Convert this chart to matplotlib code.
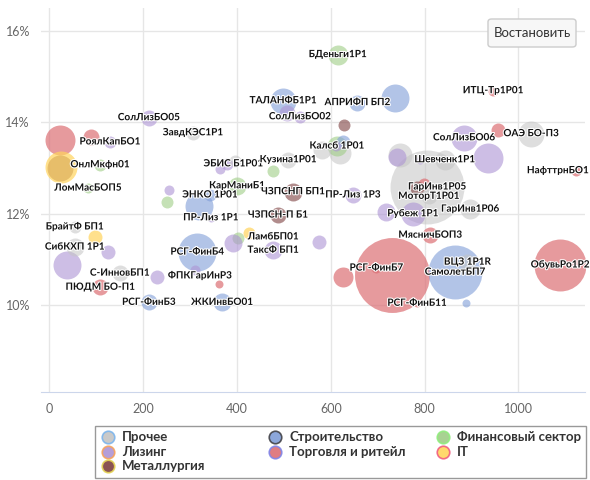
import matplotlib.pyplot as plt
import matplotlib.patheffects as pe
from matplotlib.lines import Line2D
from matplotlib.patches import FancyBboxPatch, Rectangle

plt.rcParams['font.family'] = ['Lato', 'DejaVu Sans']

# Bubble data: name ('' = no label), volume (x), yield % (y), size (z), sector
names = ['', '', 'РоялКапБО1', '', '', 'ОнлМкфн01', 'ЛомМасБОП5', 'СолЛизБО05',
         'ЗавдКЭС1Р1', '', '', '', 'ЭНКО 1Р01', 'ПР-Лиз 1Р1', 'ЭБИС Б1Р01', '',
         '', 'Кузина1Р01', '', 'КарМаниБ1', 'ЧЗПСНП БП1', 'ЧЗПСН-П Б1', 'ЛамбБП01', '',
         '', 'ТаксФ БП1', '', 'РСГ-ФинБ4', 'ФПКГарИнР3', '', '', 'ЖКИнвБО01',
         'РСГ-ФинБ3', 'ПЮДМ БО-П1', 'С-ИнновБП1', '', 'СибКХП 1Р1', '', 'БрайтФ БП1', '',
         'ТАЛАНФБ1Р1', '', 'СолЛизБО02', 'АПРИФП БП2', '', 'БДеньги1Р1', 'ИТЦ-Тр1Р01', '',
         '', 'Калсб 1Р01', '', '', 'СолЛизБО06', 'ОАЭ БО-П3', '', '',
         'НафттрнБО1', '', 'Шевченк1Р1', '', '', 'ГарИнв1Р05', '', 'МоторТ1Р01',
         'Рубеж 1Р1', '', 'ГарИнв1Р06', 'МясничБОП3', '', 'РСГ-ФинБ7', '', 'РСГ-ФинБ11',
         'СамолетБП7', 'ВЦЗ 1Р1R', '', 'ОбувьРо1Р2', 'ПР-Лиз 1Р3', '', '']
vol = [22, 88, 129, 22, 24, 108, 82, 212,
       306, 255, 251, 319, 342, 344, 379, 364,
       396, 509, 477, 400, 519, 487, 426, 402,
       391, 477, 575, 315, 310, 229, 362, 368,
       212, 108, 150, 37, 54, 125, 54, 97,
       498, 507, 534, 656, 737, 615, 946, 628,
       620, 613, 626, 611, 884, 1027, 957, 935,
       1123, 805, 843, 748, 741, 799, 784, 809,
       775, 718, 897, 812, 731, 697, 626, 784,
       865, 891, 888, 1089, 647, 582, 790]
yld = [13.62, 13.68, 13.57, 13.0, 13.02, 13.07, 12.56, 14.1,
       13.77, 12.52, 12.26, 12.17, 12.41, 11.91, 13.09, 12.98,
       13.16, 13.18, 12.94, 12.61, 12.48, 11.97, 11.58, 11.47,
       11.36, 11.2, 11.38, 11.16, 10.77, 10.61, 10.46, 10.06,
       10.06, 10.39, 10.7, 10.88, 11.27, 11.16, 11.71, 11.49,
       14.47, 14.21, 14.12, 14.43, 14.54, 15.48, 14.69, 13.95,
       13.33, 13.48, 13.57, 13.48, 13.66, 13.75, 13.84, 13.22,
       12.94, 12.59, 13.18, 13.29, 13.24, 12.65, 12.56, 12.38,
       12.0, 12.04, 12.1, 11.53, 10.66, 10.81, 10.61, 10.04,
       10.72, 10.94, 10.04, 10.88, 12.41, 13.4, 13.18]
size = [225, 64, 36, 169, 256, 36, 25, 64,
        49, 25, 36, 196, 36, 16, 36, 25,
        36, 64, 36, 81, 81, 64, 36, 36,
        81, 81, 49, 361, 25, 49, 16, 81,
        64, 64, 64, 196, 81, 49, 36, 49,
        169, 64, 36, 64, 196, 100, 25, 36,
        121, 100, 49, 25, 169, 169, 49, 225,
        25, 1369, 100, 144, 81, 36, 49, 64,
        144, 81, 100, 64, 1406, 25, 100, 16,
        729, 64, 16, 676, 64, 81, 16]
sector = ['t', 't', 'l', 'm', 'it', 'f', 'f', 'l',
          'o', 'l', 'f', 's', 's', 'l', 'l', 'l',
          'o', 'o', 'f', 'f', 'm', 'm', 'it', 'f',
          'l', 'l', 'l', 's', 'l', 'l', 't', 's',
          's', 't', 'o', 'l', 'o', 'l', 'o', 'it',
          's', 'l', 'l', 's', 's', 'f', 't', 'm',
          'o', 'f', 's', 'l', 'l', 'o', 't', 'l',
          't', 'o', 'o', 'o', 'l', 't', 'm', 'o',
          'l', 'l', 'o', 't', 't', 't', 't', 't',
          's', 'o', 's', 't', 'l', 'o', 'l']

# legend order, row by row
sectors = ['o', 's', 'f', 'l', 't', 'it', 'm']
sector_names = {'o': 'Прочее', 'l': 'Лизинг', 'm': 'Металлургия', 's': 'Строительство',
                't': 'Торговля и ритейл', 'f': 'Финансовый сектор', 'it': 'IT'}
fill = {'o': '#c4c4c4', 'l': '#ad94d4', 'm': '#7d4040', 's': '#809ed8',
        't': '#dc6f74', 'f': '#9fcd86', 'it': '#ffd45c'}
alpha = {'o': 0.55, 'l': 0.6, 'm': 0.6, 's': 0.6, 't': 0.7, 'f': 0.6, 'it': 0.7}
edge = {'o': '#7cb5ec', 'l': '#f7a35c', 'm': '#e4d354', 's': '#434348',
        't': '#8085e9', 'f': '#90ed7d', 'it': '#f15c80'}

# label nudges in pixels (dx right, dy down)
nudge = {'НафттрнБО1': (-18, 0), 'ЛамбБП01': (24, 4), 'ФПКГарИнР3': (5, 6),
         'ГарИнв1Р05': (13, 3), 'ЭБИС Б1Р01': (6, 0)}

fig = plt.figure(figsize=(5.9, 4.8), dpi=100)
ax = fig.add_axes([41 / 590, 1 - 392 / 480, 544 / 590, 384 / 480])

for i in range(len(names)):
    sc = sector[i]
    ax.scatter(vol[i], yld[i], s=size[i] * 2.07, color=fill[sc], alpha=alpha[sc],
               linewidths=0, zorder=2)

for i in range(len(names)):
    if names[i]:
        dx, dy = nudge.get(names[i], (0, 0))
        ax.annotate(names[i], (vol[i], yld[i]), xytext=(dx * 0.72, -dy * 0.72),
                    textcoords='offset points', ha='center', va='center',
                    fontsize=7.2, fontweight='bold', color='#111111', zorder=5,
                    path_effects=[pe.withStroke(linewidth=1.5, foreground='white')])

ax.set_xlim(-18, 1142)
ax.set_ylim(8.1, 16.5)
ax.set_xticks([0, 200, 400, 600, 800, 1000])
ax.set_yticks([10, 12, 14, 16])
ax.set_yticklabels(['10%', '12%', '14%', '16%'])
ax.grid(True, color='#e6e6e6', linewidth=1)
ax.set_axisbelow(True)
for s in ['top', 'right', 'left']:
    ax.spines[s].set_visible(False)
ax.spines['bottom'].set_color('#ccd6eb')
ax.tick_params(length=0, colors='#666666', labelsize=9, pad=8)

# legend box drawn by hand (fixed item width like the original)
W, H = 590.0, 480.0
fig.patches.append(Rectangle((95 / W, 1 - 478 / H), 491 / W, 52 / H,
                             transform=fig.transFigure, facecolor='white',
                             edgecolor='#999999', linewidth=1))
col_x = [108, 275, 443]
row_y = [437, 452, 466]
for k, sc in enumerate(sectors):
    cx = col_x[k % 3]
    cy = row_y[k // 3]
    fig.add_artist(Line2D([cx / W], [1 - cy / H], transform=fig.transFigure,
                          marker='o', linestyle='', markersize=9,
                          markerfacecolor=fill[sc], markeredgecolor=edge[sc],
                          markeredgewidth=1.2, alpha=0.9))
    fig.text((cx + 14) / W, 1 - cy / H, sector_names[sc], ha='left', va='center',
             fontsize=9.5, fontweight='bold', color='#333333')

btn = FancyBboxPatch((488 / W, 1 - 47 / H), 88 / W, 28 / H,
                     boxstyle='round,pad=0,rounding_size=0.006', transform=fig.transFigure,
                     facecolor='#f7f7f7', edgecolor='#cccccc', linewidth=1)
fig.patches.append(btn)
fig.text(532 / W, 1 - 33 / H, 'Востановить', ha='center', va='center',
         fontsize=9.5, color='#333333')

fig.savefig('out.png', dpi=100)
